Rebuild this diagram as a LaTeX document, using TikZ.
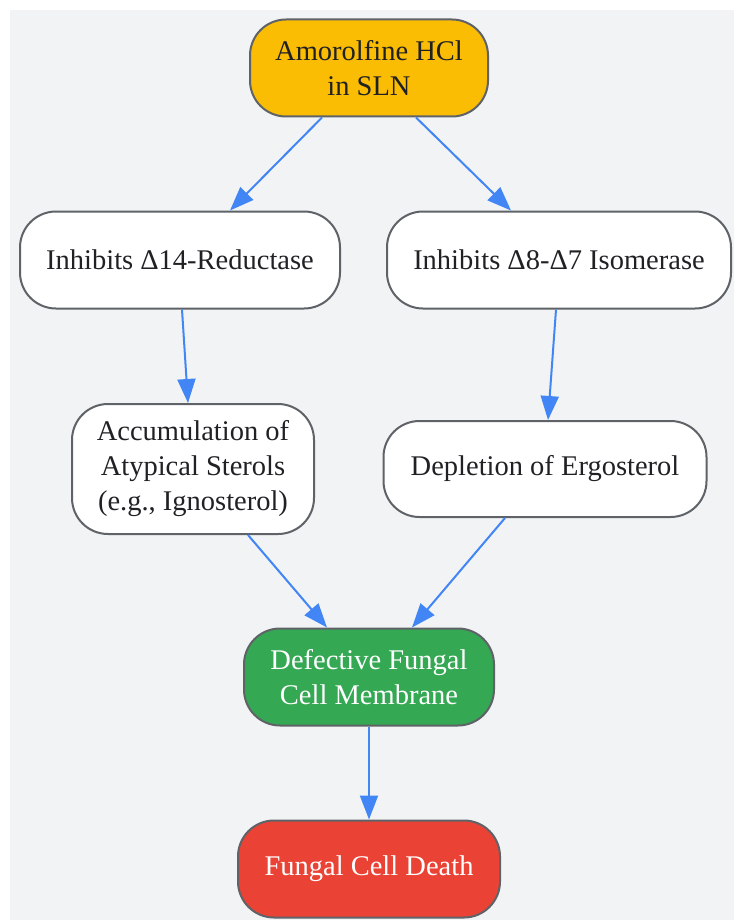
\documentclass[tikz,border=0pt]{standalone}
\usepackage{fontspec}
\setmainfont{Liberation Serif}
\usetikzlibrary{arrows.meta}

\definecolor{bgpanel}{HTML}{F1F3F4}
\definecolor{edgegray}{HTML}{5F6368}
\definecolor{inkdark}{HTML}{202124}
\definecolor{gyellow}{HTML}{FBBC04}
\definecolor{ggreen}{HTML}{34A853}
\definecolor{gred}{HTML}{EA4335}
\definecolor{gblue}{HTML}{4285F4}

\tikzset{
  stepbox/.style={draw=edgegray, line width=2pt, rounded corners=36pt,
    fill=white, text=inkdark, align=center, minimum height=97pt,
    font=\fontsize{28.5}{35}\selectfont},
  flow/.style={draw=gblue, line width=2pt,
    -{Triangle[length=24pt, width=18pt]}}
}

\begin{document}
\begin{tikzpicture}[x=1pt, y=-1pt]
  \useasboundingbox (0,0) rectangle (734,920);
  \fill[bgpanel] (10,10) rectangle (734,920);

  % nodes
  \node[stepbox, fill=gyellow, minimum width=238pt] (amor) at (369,68)
    {Amorolfine HCl\\in SLN};
  \node[stepbox, minimum width=320pt] (red) at (180,260)
    {Inhibits Δ14-Reductase};
  \node[stepbox, minimum width=344pt] (iso) at (559,260)
    {Inhibits Δ8-Δ7 Isomerase};
  \node[stepbox, minimum width=242pt, minimum height=130pt] (accum) at (193,469)
    {Accumulation of\\Atypical Sterols\\(e.g., Ignosterol)};
  \node[stepbox, minimum width=323pt, minimum height=96pt] (depl) at (545,469)
    {Depletion of Ergosterol};
  \node[stepbox, fill=ggreen, text=white, minimum width=250pt] (memb) at (369,677)
    {Defective Fungal\\Cell Membrane};
  \node[stepbox, fill=gred, text=white, minimum width=262pt] (death) at (369,869)
    {Fungal Cell Death};

  % arrows
  \draw[flow] ([xshift=-47pt]amor.south) -- ([xshift=50pt]red.north);
  \draw[flow] ([xshift=47pt]amor.south) -- ([xshift=-48pt]iso.north);
  \draw[flow] ([xshift=2pt]red.south) -- ([xshift=-5pt]accum.north);
  \draw[flow] ([xshift=-3pt]iso.south) -- ([xshift=3pt]depl.north);
  \draw[flow] ([xshift=55pt]accum.south) -- ([xshift=-42pt]memb.north);
  \draw[flow] ([xshift=-40pt]depl.south) -- ([xshift=43pt]memb.north);
  \draw[flow] (memb) -- (death);
\end{tikzpicture}
\end{document}
